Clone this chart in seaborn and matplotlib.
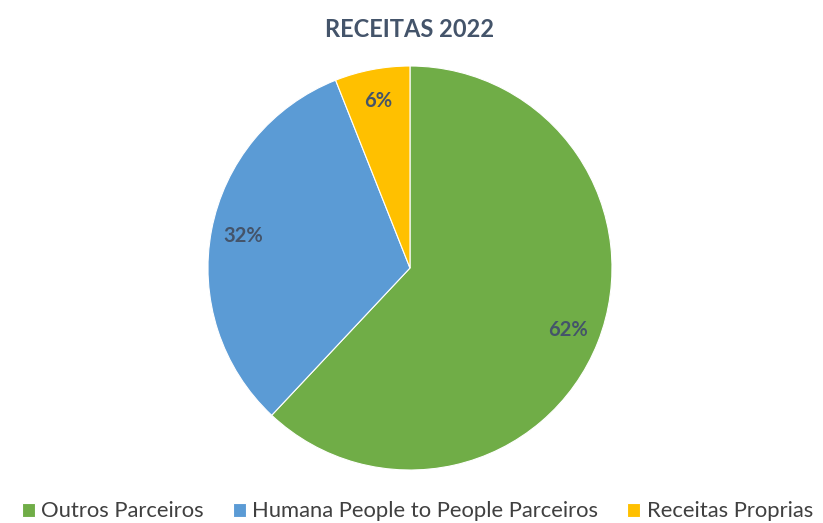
import matplotlib.pyplot as plt
import seaborn as sns

categories = ["Outros Parceiros", "Humana People to People Parceiros", "Receitas Proprias"]
shares = [62, 32, 6]
colors = ["#70AD47", "#5B9BD5", "#FFC000"]

sns.set_theme(style="white")
plt.rcParams["font.family"] = ["Lato", "DejaVu Sans"]

fig = plt.figure(figsize=(8.23, 5.23), dpi=100)
ax = fig.add_axes([0.2527, 0.1013, 0.4909, 0.7725])

wedges, texts, autotexts = ax.pie(
    shares, colors=colors, startangle=90, counterclock=False,
    autopct="%1.0f%%", pctdistance=0.84,
    wedgeprops=dict(edgecolor="white", linewidth=0.8),
    textprops=dict(color="#44546A", fontsize=14.5, fontweight="bold"),
)
ax.set_xlim(-1, 1)
ax.set_ylim(-1, 1)
ax.set_aspect("equal")

fig.text(0.498, 0.943, "RECEITAS 2022", ha="center", va="center",
         fontsize=17, fontweight="bold", color="#44546A")

fig.legend(wedges, categories, loc="center", bbox_to_anchor=(0.507, 0.022),
           ncol=3, frameon=False, fontsize=15.8, handlelength=0.6, handleheight=0.6,
           handletextpad=0.3, columnspacing=1.3, labelcolor="#404040")

fig.savefig("out.png", dpi=100, facecolor="white")
